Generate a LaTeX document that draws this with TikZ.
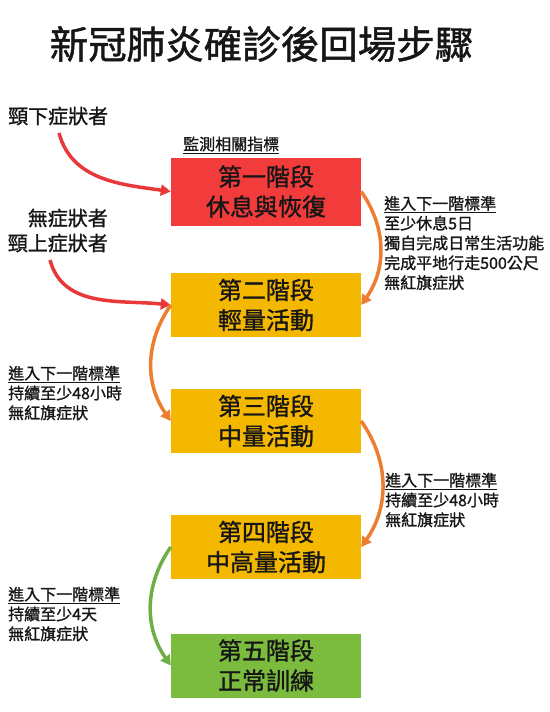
\documentclass[tikz,border=0pt]{standalone}
\usepackage{fontspec}
\setmainfont{Noto Sans CJK TC}[FakeBold=1.2]
\usetikzlibrary{arrows.meta, positioning}
\definecolor{stagered}{HTML}{F23B3B}
\definecolor{stageamber}{HTML}{F5B800}
\definecolor{stagegreen}{HTML}{7BBB3D}
\definecolor{arrowred}{HTML}{E8383A}
\definecolor{arroworange}{HTML}{ED7D31}
\definecolor{arrowgreen}{HTML}{70AD47}
\definecolor{inkdark}{HTML}{161616}

\begin{document}
\begin{tikzpicture}[x=1pt, y=1pt, text=inkdark,
  stage/.style={minimum width=190pt, minimum height=64pt, inner sep=0pt, align=center, font=\fontsize{24}{30}\selectfont},
  crit/.style={anchor=west, align=left, inner sep=0pt, font=\fontsize{16}{19.8}\selectfont},
  flow/.style={line width=3.5pt, -{Triangle[length=10pt,width=11pt]}}]
\useasboundingbox (0,0) rectangle (549,-712);

\node[font=\fontsize{38.5}{40}\selectfont] (title) at (261.5,-44) {新冠肺炎確診後回場步驟};

% stages
\node[stage, fill=stagered, minimum height=68pt] (s1) at (266,-191.5) {第一階段\\休息與恢復};
\node[stage, fill=stageamber] (s2) at (266,-305) {第二階段\\輕量活動};
\node[stage, fill=stageamber] (s3) at (266,-421) {第三階段\\中量活動};
\node[stage, fill=stageamber] (s4) at (266,-547) {第四階段\\中高量活動};
\node[stage, fill=stagegreen] (s5) at (266,-665.5) {第五階段\\正常訓練};

% entry points
\node[anchor=west, inner sep=0pt, font=\fontsize{20}{25}\selectfont] (neckdown) at (8,-116) {頸下症狀者};
\node[anchor=east, align=right, inner sep=0pt, font=\fontsize{20}{25}\selectfont] (neckup) at (108,-230.5) {無症狀者\\頸上症狀者};
\node[anchor=west, inner sep=0pt, font=\fontsize{16}{20}\selectfont] (monitor) at (183,-145) {\underline{監測相關指標}};

% criteria
\node[crit] (c12) at (384,-243) {\underline{進入下一階標準}\\至少休息5日\\獨自完成日常生活功能\\完成平地行走500公尺\\無紅旗症狀};
\node[crit] (c23) at (8,-393) {\underline{進入下一階標準}\\持續至少48小時\\無紅旗症狀};
\node[crit] (c34) at (385,-500) {\underline{進入下一階標準}\\持續至少48小時\\無紅旗症狀};
\node[crit] (c45) at (8,-614) {\underline{進入下一階標準}\\持續至少4天\\無紅旗症狀};

\coordinate (fromdown) at (59,-133);
\coordinate (fromup) at (50,-260);
\draw[flow, arrowred] (fromdown) to[out=-75, in=172] (s1.west);
\draw[flow, arrowred] (fromup) to[out=-75, in=174] (s2.west);

\draw[flow, arroworange] (s1.east) to[bend left=35] (s2.east);
\draw[flow, arroworange] (s2.west) to[bend right=35] (s3.west);
\draw[flow, arroworange] (s3.east) to[bend left=35] (s4.east);
\draw[flow, arrowgreen] (s4.west) to[bend right=35] (s5.west);
\end{tikzpicture}
\end{document}
